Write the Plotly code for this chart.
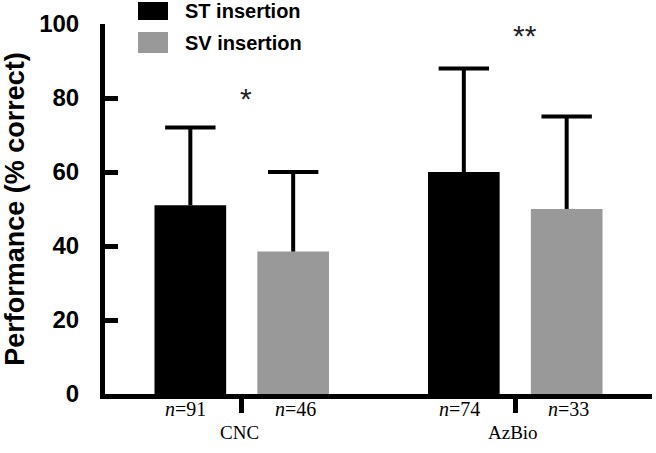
import plotly.graph_objects as go

categories = ["CNC", "AzBio"]
series_names = ["ST insertion", "SV insertion"]
st_mean = [51, 60]
st_sd = [21, 28]
sv_mean = [38.5, 50]
sv_sd = [21.5, 25]
st_n = [91, 74]
sv_n = [46, 33]
sig_labels = ["*", "**"]
sig_y = [80, 97]
y_ticks = [0, 20, 40, 60, 80, 100]

colors = ["#000000", "#999999"]
BAR_W = 0.262
OFF = 0.188

xs = list(range(len(categories)))
fig = go.Figure()
for i, (mean, sd, col, name) in enumerate(zip([st_mean, sv_mean], [st_sd, sv_sd], colors, series_names)):
    sign = -1 if i == 0 else 1
    bx = [x + sign * OFF for x in xs]
    fig.add_trace(go.Bar(
        x=bx, y=mean, width=BAR_W, name=name,
        marker=dict(color=col, line=dict(width=0)),
        showlegend=False,
    ))
    # upper-only error bars: stem + cap
    sx, sy = [], []
    for xv, m, s in zip(bx, mean, sd):
        sx += [xv, xv, None]
        sy += [m, m + s, None]
    fig.add_trace(go.Scatter(x=sx, y=sy, mode="lines", line=dict(color="black", width=4),
                             showlegend=False, hoverinfo="skip"))
    fig.add_trace(go.Scatter(x=bx, y=[m + s for m, s in zip(mean, sd)], mode="markers",
                             marker=dict(symbol="line-ew", size=36, line=dict(color="black", width=4)),
                             showlegend=False, hoverinfo="skip"))

ann = []
for x, ns, dx in [(xs, st_n, -0.205), (xs, sv_n, 0.195)]:
    for xi, n in zip(x, ns):
        ann.append(dict(x=xi + dx, y=-0.076, xref="x", yref="paper",
                        text=f"<i>n</i>={n}", showarrow=False,
                        font=dict(family="Liberation Serif", size=20, color="black")))
for xi, c in zip(xs, categories):
    ann.append(dict(x=xi - 0.01, y=-0.138, xref="x", yref="paper", text=c, showarrow=False,
                    font=dict(family="Liberation Serif", size=19, color="black")))
for xi, s, sy in zip(xs, sig_labels, sig_y):
    ann.append(dict(x=xi + 0.015 + 0.02 * (len(s) - 1), y=sy, xref="x", yref="y", text=s, showarrow=False,
                    yanchor="middle",
                    font=dict(family="Liberation Sans", size=30, color="#222222")))

# legend drawn manually
shapes = []
leg_y = [(1.0595, 1.0108), (0.9784, 0.9216)]
for (y1, y0), col, name in zip(leg_y, colors, series_names):
    shapes.append(dict(type="rect", xref="paper", yref="paper", x0=0.0603, x1=0.1152,
                       y0=y0, y1=y1, fillcolor=col, line=dict(width=0)))
    ann.append(dict(x=0.1426, y=(y0 + y1) / 2, xref="paper", yref="paper", text=f"<b>{name}</b>",
                    xanchor="left", yanchor="middle", showarrow=False,
                    font=dict(family="Liberation Sans", size=20, color="black")))

fig.update_layout(
    width=656, height=453,
    margin=dict(l=105, r=4, t=24, b=59),
    paper_bgcolor="white", plot_bgcolor="white",
    barmode="overlay",
    annotations=ann, shapes=shapes,
    xaxis=dict(range=[-0.5, 1.5], tickvals=xs, ticktext=["", ""], ticks="outside",
               ticklen=14, tickwidth=5, tickcolor="black", showline=True, linewidth=5,
               linecolor="black", showgrid=False, zeroline=False, automargin=False),
    yaxis=dict(range=[0, 100], tickvals=y_ticks, ticks="inside", ticklen=13, tickwidth=5,
               tickcolor="black", showline=True, linewidth=5, linecolor="black",
               showgrid=False, zeroline=False, ticklabelstandoff=16, automargin=False,
               tickfont=dict(family="Liberation Sans", size=24, color="black", weight="bold"),
               title=dict(text="<b>Performance (% correct)</b>", standoff=14,
                          font=dict(family="Liberation Sans", size=27, color="black"))),
)
# remove the browser's default 8px body margin so the figure fills the window
fig.write_html("out.html", config={"displayModeBar": False},
               post_script="document.body.style.margin='0';document.body.style.overflow='hidden';")
